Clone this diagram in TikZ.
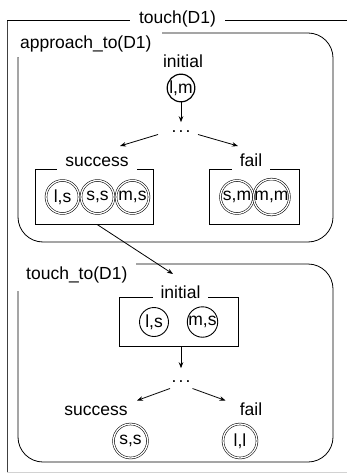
\documentclass[tikz,border=0pt]{standalone}
\usepackage{fontspec}
\setmainfont{Liberation Sans}
\usetikzlibrary{arrows.meta}

\begin{document}
\begin{tikzpicture}[x=1pt,y=-1pt,
  every node/.style={font=\fontsize{17.5}{20}\selectfont, inner sep=0pt},
  ln/.style={line width=0.8pt},
  arr/.style={line width=0.8pt, -{Stealth[length=6pt,width=4.5pt]}},
  state/.style={circle, draw, line width=1.2pt, minimum size=27pt},
  final/.style={circle, draw, double, line width=0.55pt, double distance=1.3pt, minimum size=33pt},
  group/.style={draw, line width=0.8pt, rounded corners=25pt},
  boxg/.style={draw, line width=0.8pt},
  cut/.style={fill=white, inner ysep=0pt, text depth=3pt},
  dotsl/.style={anchor=base}
]
\useasboundingbox (0,0) rectangle (347,473);

% outer frame of touch(D1)
\draw[line width=0.9pt, black!75] (7,20.5) -- (7,473);
\draw[ln] (7,20.5) -- (347,20.5);
\draw[gray!35, line width=0.8pt] (7,472.5) -- (347,472.5);
\node[fill=white, inner xsep=9pt, inner ysep=2pt, anchor=base] (touch) at (177.5,24) {touch(D1)};

% ---------- approach_to(D1) ----------
\node[group, minimum width=315pt, minimum height=209pt] (appr) at (175.5,137.5) {};
\fill[white] (12,25) rectangle (162,57.5);
\node[anchor=base west] (apprlbl) at (20,48.5) {approach\_to(D1)};

\node[anchor=base] (init1) at (183,68) {initial};
\node[state] (lm) at (181,88) {l,m};
\node[dotsl] (dots1) at (181,133) {.\kern2.2pt.\kern2.2pt.};
\draw[arr] (lm.south) -- ([yshift=8.7pt]dots1.north);

\coordinate (d1l) at (158,134.5);
\coordinate (d1r) at (198,134.5);
\coordinate (s1t) at (120,146);
\coordinate (f1t) at (238,146);
\draw[arr] (d1l) -- (s1t);
\draw[arr] (d1r) -- (f1t);

% success group
\node[boxg, minimum width=118pt, minimum height=55pt] (sbox) at (94,196.5) {};
\node[cut, anchor=base, inner xsep=8.5pt] (slbl) at (97,166.7) {success};
\node[final] (ls) at (62.5,197) {l,s};
\node[final] (ss) at (97.5,197) {s,s};
\node[final] (ms) at (132.5,197) {m,s};

% fail group
\node[boxg, minimum width=90pt, minimum height=55pt] (fbox) at (254,196.5) {};
\node[cut, anchor=base, inner xsep=8pt] (flbl) at (251,166.7) {fail};
\node[final] (sm) at (237,197) {s,m};
\node[final] (mm) at (271.5,197) {m,m};

% ---------- touch_to(D1) ----------
\node[group, minimum width=315pt, minimum height=198pt] (ttbox) at (175.5,363) {};
\fill[white] (12,258) rectangle (136,290.5);
\node[anchor=base west] (ttlbl) at (26,279.5) {touch\_to(D1)};

\coordinate (entry) at (173,274);
\draw[arr] ([xshift=3pt]sbox.south) -- (entry);

\node[boxg, minimum width=119pt, minimum height=49pt] (ibox) at (178.5,322.3) {};
\node[cut, anchor=base, inner xsep=8pt, text depth=2pt] (ilbl) at (180.5,298) {initial};
\node[state, line width=0.9pt, minimum size=29pt] (ls2) at (154,322) {l,s};
\node[state, line width=0.9pt, minimum size=29pt] (ms2) at (202.5,322) {m,s};

\node[dotsl] (dots2) at (181,382) {.\kern2.2pt.\kern2.2pt.};
\draw[arr] (ibox.south -| dots2) -- ([yshift=11.7pt]dots2.north);

\coordinate (d2l) at (170,388.5);
\coordinate (d2r) at (192.5,388.5);
\coordinate (s2t) at (137,400.5);
\coordinate (f2t) at (225.5,400.5);
\draw[arr] (d2l) -- (s2t);
\draw[arr] (d2r) -- (f2t);

\node[anchor=base] (slbl2) at (96,415) {success};
\node[anchor=base] (flbl2) at (251,415) {fail};
\node[final, minimum size=34pt] (ss2) at (130.5,441) {s,s};
\node[final, minimum size=34pt] (ll2) at (240,441) {l,l};
\end{tikzpicture}
\end{document}
